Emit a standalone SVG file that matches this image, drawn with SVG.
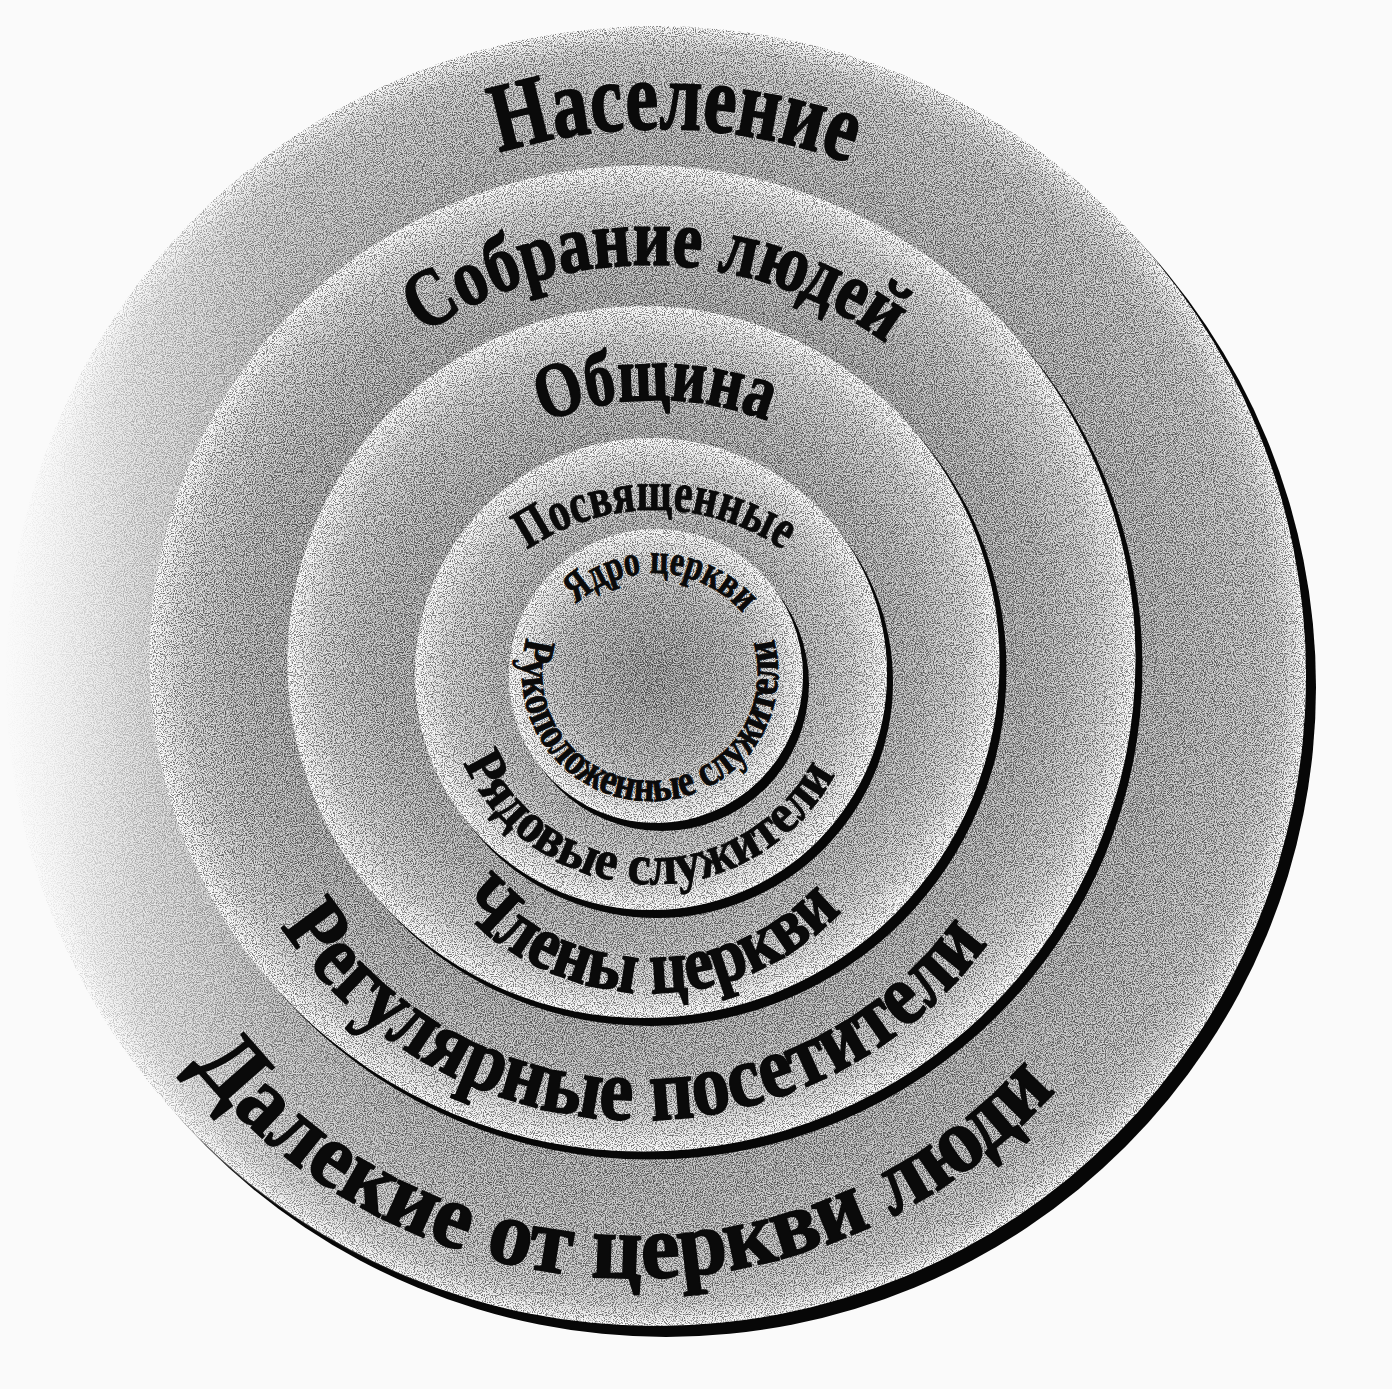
<svg xmlns="http://www.w3.org/2000/svg" width="1392" height="1389" viewBox="0 0 1392 1389">
  <style>
    .lbl { font-family: "Liberation Serif", "Times New Roman", "DejaVu Serif", serif; font-weight: bold; fill: #0a0a0a; stroke: #0a0a0a; stroke-width: 1.6; stroke-linejoin: round; text-anchor: middle; }
    .sm { stroke-width: 0.9; }
    .sh { fill: #070707; }
    .grain { fill: #000; filter: url(#grain); opacity: 0.5; }
  </style>
  <defs>
    <radialGradient id="g0" gradientUnits="userSpaceOnUse" cx="656" cy="676" r="650">
      <stop offset="0" stop-color="#989898"/>
      <stop offset="0.76" stop-color="#a4a4a4"/>
      <stop offset="0.85" stop-color="#aeaeae"/>
      <stop offset="0.93" stop-color="#b8b8b8"/>
      <stop offset="0.965" stop-color="#c8c8c8"/>
      <stop offset="1" stop-color="#f8f8f8"/>
    </radialGradient>
    <linearGradient id="fade0" gradientUnits="userSpaceOnUse" x1="0" y1="0" x2="470" y2="0">
      <stop offset="0" stop-color="#fafafa" stop-opacity="1"/>
      <stop offset="0.12" stop-color="#fafafa" stop-opacity="0.85"/>
      <stop offset="0.3" stop-color="#fafafa" stop-opacity="0.5"/>
      <stop offset="0.6" stop-color="#fafafa" stop-opacity="0.15"/>
      <stop offset="1" stop-color="#fafafa" stop-opacity="0"/>
    </linearGradient>
    <radialGradient id="g1" gradientUnits="userSpaceOnUse" cx="642.5" cy="658.5" r="493">
      <stop offset="0" stop-color="#929292"/>
      <stop offset="0.736" stop-color="#a0a0a0"/>
      <stop offset="0.838" stop-color="#adadad"/>
      <stop offset="0.929" stop-color="#c8c8c8"/>
      <stop offset="0.98" stop-color="#ececec"/>
      <stop offset="1" stop-color="#f7f7f7"/>
    </radialGradient>
    <radialGradient id="g2" gradientUnits="userSpaceOnUse" cx="643.5" cy="662" r="356">
      <stop offset="0" stop-color="#929292"/>
      <stop offset="0.635" stop-color="#a0a0a0"/>
      <stop offset="0.775" stop-color="#adadad"/>
      <stop offset="0.902" stop-color="#c8c8c8"/>
      <stop offset="0.972" stop-color="#ececec"/>
      <stop offset="1" stop-color="#f7f7f7"/>
    </radialGradient>
    <radialGradient id="g3" gradientUnits="userSpaceOnUse" cx="651" cy="674" r="236">
      <stop offset="0" stop-color="#929292"/>
      <stop offset="0.449" stop-color="#a0a0a0"/>
      <stop offset="0.661" stop-color="#adadad"/>
      <stop offset="0.852" stop-color="#c8c8c8"/>
      <stop offset="0.958" stop-color="#ececec"/>
      <stop offset="1" stop-color="#f7f7f7"/>
    </radialGradient>
    <radialGradient id="g4" gradientUnits="userSpaceOnUse" cx="656" cy="676" r="147">
      <stop offset="0" stop-color="#8a8a8a"/>
      <stop offset="0.3" stop-color="#9a9a9a"/>
      <stop offset="0.6" stop-color="#aeaeae"/>
      <stop offset="0.762" stop-color="#c6c6c6"/>
      <stop offset="0.932" stop-color="#eaeaea"/>
      <stop offset="1" stop-color="#f7f7f7"/>
    </radialGradient>
    <filter id="grain" x="0" y="0" width="1" height="1" color-interpolation-filters="sRGB">
      <feTurbulence type="fractalNoise" baseFrequency="0.9" numOctaves="2" seed="5" result="t"/>
      <feColorMatrix in="t" type="matrix" values="0 0 0 0 0  0 0 0 0 0  0 0 0 0 0  -5 0 0 0 2.6" result="dk"/>
      <feColorMatrix in="t" type="matrix" values="0 0 0 0 1  0 0 0 0 1  0 0 0 0 1  5 0 0 0 -2.4" result="lt"/>
      <feMerge result="m"><feMergeNode in="dk"/><feMergeNode in="lt"/></feMerge>
      <feComposite in="m" in2="SourceAlpha" operator="in"/>
    </filter>
    <path id="tp0" d="M317.9,247.6 A550,550 0 0 1 1024.5,268.0"/>
    <path id="tp1" d="M346.8,401.8 A400,400 0 0 1 959.6,414.1"/>
    <path id="tp2" d="M461.7,471.7 A302,302 0 0 1 849.9,469.6"/>
    <path id="tp3" d="M482.6,590.4 A225,225 0 0 1 827.4,590.4"/>
    <path id="tp4" d="M557.9,625.5 A116,116 0 0 1 758.5,636.7"/>
    <path id="tp5" d="M534.2,618.4 A128,128 0 1 0 766.2,619.4"/>
    <path id="tp6" d="M447.1,706.7 A207,207 0 0 0 854.7,719.1"/>
    <path id="tp7" d="M406.5,818.5 A260,260 0 0 0 895.0,825.3"/>
    <path id="tp8" d="M232.5,827.3 A430,430 0 0 0 1040.4,846.7"/>
    <path id="tp9" d="M127.9,962.3 A565,565 0 0 0 1125.2,994.0"/>
  </defs>

  <rect width="1392" height="1389" fill="#fafafa"/>

  <g id="ring-naselenie">
    <circle class="sh" cx="666" cy="687" r="650"/>
    <circle cx="656" cy="676" r="650" fill="url(#g0)"/>
    <circle class="grain" cx="656" cy="676" r="650"/>
    <circle cx="656" cy="676" r="651" fill="url(#fade0)"/>
    <text class="lbl" font-size="98"><textPath href="#tp0" startOffset="50%" textLength="356" lengthAdjust="spacingAndGlyphs">Население</textPath></text>
    <text class="lbl" font-size="92"><textPath href="#tp9" startOffset="50%" textLength="985" lengthAdjust="spacingAndGlyphs">Далекие от церкви люди</textPath></text>
  </g>

  <g id="ring-sobranie">
    <circle class="sh" cx="649.5" cy="666.5" r="493"/>
    <circle cx="642.5" cy="658.5" r="493" fill="url(#g1)"/>
    <circle class="grain" cx="642.5" cy="658.5" r="493"/>
    <text class="lbl" font-size="82"><textPath href="#tp1" startOffset="50%" textLength="494" lengthAdjust="spacingAndGlyphs">Собрание людей</textPath></text>
    <text class="lbl" font-size="88"><textPath href="#tp8" startOffset="50%" textLength="830" lengthAdjust="spacingAndGlyphs">Регулярные посетители</textPath></text>
  </g>

  <g id="ring-obshchina">
    <circle class="sh" cx="650.5" cy="670" r="356"/>
    <circle cx="643.5" cy="662" r="356" fill="url(#g2)"/>
    <circle class="grain" cx="643.5" cy="662" r="356"/>
    <text class="lbl" font-size="78"><textPath href="#tp2" startOffset="50%" textLength="229" lengthAdjust="spacingAndGlyphs">Община</textPath></text>
    <text class="lbl" font-size="76"><textPath href="#tp7" startOffset="50%" textLength="432" lengthAdjust="spacingAndGlyphs">Члены церкви</textPath></text>
  </g>

  <g id="ring-posvyashchennye">
    <circle class="sh" cx="657" cy="682" r="236"/>
    <circle cx="651" cy="674" r="236" fill="url(#g3)"/>
    <circle class="grain" cx="651" cy="674" r="236"/>
    <text class="lbl sm" font-size="56"><textPath href="#tp3" startOffset="50%" textLength="272" lengthAdjust="spacingAndGlyphs">Посвященные</textPath></text>
    <text class="lbl sm" font-size="56"><textPath href="#tp6" startOffset="50%" textLength="461" lengthAdjust="spacingAndGlyphs">Рядовые служители</textPath></text>
  </g>

  <g id="ring-yadro">
    <circle class="sh" cx="662" cy="684" r="147"/>
    <circle cx="656" cy="676" r="147" fill="url(#g4)"/>
    <circle class="grain" cx="656" cy="676" r="147"/>
    <text class="lbl sm" font-size="42"><textPath href="#tp4" startOffset="50%" textLength="186" lengthAdjust="spacingAndGlyphs">Ядро церкви</textPath></text>
    <text class="lbl sm" font-size="44"><textPath href="#tp5" startOffset="50%" textLength="472" lengthAdjust="spacingAndGlyphs">Рукоположенные служители</textPath></text>
  </g>
</svg>
